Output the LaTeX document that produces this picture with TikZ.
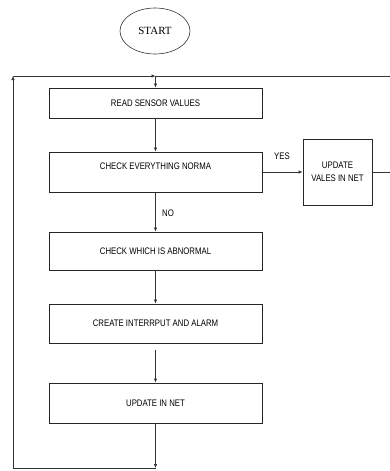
\documentclass[tikz,border=0pt]{standalone}
\usepackage{fontspec}
\setmainfont{Liberation Serif}
\newfontfamily\boxfont{Liberation Sans}[FakeStretch=0.82]
\usetikzlibrary{arrows.meta,shapes.geometric}

\begin{document}
\begin{tikzpicture}[x=1pt, y=-1pt,
  terminal/.style={ellipse, draw=black!80, line width=0.6pt, minimum width=70pt, minimum height=46pt, inner sep=0pt, font=\fontsize{11}{13}\selectfont},
  process/.style={draw=black!85, line width=0.7pt, minimum width=213pt, inner sep=2pt, font=\boxfont\fontsize{9.5}{11}\selectfont},
  flowlabel/.style={inner sep=0pt, font=\boxfont\fontsize{9.5}{11}\selectfont},
  flow/.style={-{Latex[length=4pt,width=3.5pt]}, line width=0.7pt, draw=black!80},
  plain/.style={line width=0.7pt, draw=black!80},
]
\useasboundingbox (0,0) rectangle (390,471);

\node[terminal] (start) at (155,31) {START};

\node[process, minimum height=30pt] (read) at (155.5,103) {READ SENSOR VALUES};
\node[process, minimum height=40pt, text depth=12pt] (check) at (155.5,172) {CHECK EVERYTHING NORMA};
\node[process, minimum height=38pt] (abnormal) at (155.5,251) {CHECK WHICH IS ABNORMAL};
\node[process, minimum height=39pt] (alarm) at (155.5,323.5) {CREATE INTERRPUT AND ALARM};
\node[process, minimum height=40pt] (netupd) at (155.5,403) {UPDATE IN NET};
\node[draw=black!85, line width=0.7pt, minimum width=69pt, minimum height=66pt, align=center, inner sep=1pt, font=\boxfont\fontsize{9.5}{13}\selectfont] (vales) at (337.5,172) {UPDATE\\VALES IN NET};

\node[flowlabel] (yes) at (282,156) {YES};
\node[flowlabel] (no) at (168,213) {NO};

\coordinate (join) at (155.5,76);
\coordinate (topleft) at (13,76);
\coordinate (topright) at (390,76);
\coordinate (bottom) at (155.5,468);
\coordinate (bottomleft) at (13,468);
\coordinate (gap) at (155.5,350);
\coordinate (exitright) at (390,172);

\draw[flow] (join) -- (read.north);
\draw[flow] (read.south) -- (check.north);
\draw[flow] (check.south) -- (abnormal.north);
\draw[flow] (abnormal.south) -- (alarm.north);
\draw[flow] (gap) -- (netupd.north);
\draw[flow] (netupd.south) -- (bottom);
\draw[flow] (bottom) -- (bottomleft) -- (topleft);
\draw[flow] (topleft) -- (join);
\draw[plain] (join) -- (topright);
\draw[flow] (check.east) -- (vales.west);
\draw[plain] (vales.east) -- (exitright);
\end{tikzpicture}
\end{document}
